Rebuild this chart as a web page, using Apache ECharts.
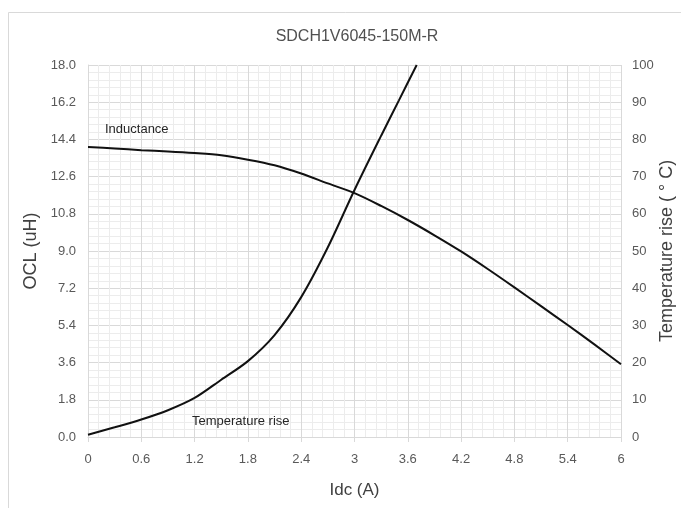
<!DOCTYPE html>
<html>
<head>
<meta charset="utf-8">
<script src="https://cdn.jsdelivr.net/npm/echarts@6/dist/echarts.min.js"></script>
<style>
html,body{margin:0;padding:0;background:#fff;}
#chart{width:681px;height:508px;}
</style>
</head>
<body>
<div id="chart"></div>
<script>
// ---- data ----
var titleText = 'SDCH1V6045-150M-R';
var xTickLabels = ['0', '0.6', '1.2', '1.8', '2.4', '3', '3.6', '4.2', '4.8', '5.4', '6'];
var leftTickLabels = ['0.0', '1.8', '3.6', '5.4', '7.2', '9.0', '10.8', '12.6', '14.4', '16.2', '18.0'];
var rightTickLabels = ['0', '10', '20', '30', '40', '50', '60', '70', '80', '90', '100'];

var idcL = [0, 0.3, 0.6, 0.9, 1.2, 1.5, 1.8, 2.1, 2.4, 2.7, 3.0, 3.3, 3.6, 3.9, 4.2, 4.5, 4.8, 5.1, 5.4, 5.7, 6.0];
var inductance = [14.03, 13.96, 13.88, 13.82, 13.74, 13.63, 13.42, 13.15, 12.75, 12.27, 11.80, 11.18, 10.50, 9.76, 8.98, 8.13, 7.24, 6.33, 5.42, 4.48, 3.52];

var idcT = [0, 0.3, 0.6, 0.9, 1.2, 1.5, 1.8, 2.1, 2.4, 2.7, 3.0, 3.3, 3.5, 3.7];
var tempRise = [0.6, 2.6, 4.7, 7.2, 10.5, 15.4, 20.4, 27.4, 37.6, 51.0, 66.4, 81.0, 90.5, 100];

var seriesNames = ['Inductance', 'Temperature rise'];

// ---- build ----
function zip(xs, ys) { return xs.map(function (x, i) { return [x, ys[i]]; }); }

var FONT = "'Liberation Sans', sans-serif";
var chart = echarts.init(document.getElementById('chart'), null, { renderer: 'canvas' });

var option = {
  animation: false,
  backgroundColor: '#ffffff',
  title: [
    {
      text: titleText,
      left: 352, top: 24, textAlign: 'center',
      textStyle: { fontFamily: FONT, fontSize: 16, fontWeight: 'normal', color: '#505050' }
    },
    {
      text: seriesNames[0], left: 100, top: 118,
      textStyle: { fontFamily: FONT, fontSize: 13, fontWeight: 'normal', color: '#262626' }
    },
    {
      text: seriesNames[1], left: 187, top: 410,
      textStyle: { fontFamily: FONT, fontSize: 13, fontWeight: 'normal', color: '#262626' }
    }
  ],
  graphic: [
    { type: 'rect', shape: { x: 8.5, y: 12.5, width: 700, height: 520 },
      style: { fill: 'none', stroke: '#d9d9d9', lineWidth: 1 }, silent: true, z: -1 }
  ],
  grid: { left: 88, right: 60, top: 65, bottom: 71, containLabel: false, outerBoundsMode: 'none' },
  xAxis: {
    type: 'value', min: 0, max: 6, interval: 0.6,
    name: 'Idc (A)', nameLocation: 'middle', nameGap: 45,
    nameTextStyle: { fontFamily: FONT, fontSize: 17, color: '#404040' },
    axisLine: { show: true, lineStyle: { color: '#d9d9d9' } },
    axisTick: { show: true, length: 5, lineStyle: { color: '#d9d9d9' } },
    axisLabel: { fontFamily: FONT, fontSize: 13, color: '#595959', margin: 16,
      formatter: function (v, i) { return xTickLabels[i]; } },
    splitLine: { show: true, lineStyle: { color: '#d9d9d9' } },
    minorTick: { show: false, splitNumber: 5 },
    minorSplitLine: { show: true, lineStyle: { color: '#ececec' } }
  },
  yAxis: [
    {
      type: 'value', min: 0, max: 18, interval: 1.8, position: 'left',
      name: 'OCL (uH)', nameLocation: 'middle', nameGap: 48, nameRotate: 90,
      nameTextStyle: { fontFamily: FONT, fontSize: 18, color: '#404040' },
      axisLine: { show: true, lineStyle: { color: '#d9d9d9' } },
      axisTick: { show: false },
      axisLabel: { fontFamily: FONT, fontSize: 13, color: '#595959', margin: 12,
        formatter: function (v, i) { return leftTickLabels[i]; } },
      splitLine: { show: true, lineStyle: { color: '#d9d9d9' } },
      minorTick: { show: false, splitNumber: 5 },
      minorSplitLine: { show: true, lineStyle: { color: '#ececec' } }
    },
    {
      type: 'value', min: 0, max: 100, interval: 10, position: 'right',
      name: 'Temperature rise ( ° C)', nameLocation: 'middle', nameGap: 37, nameRotate: 90,
      nameMoveOverlap: false,
      nameTextStyle: { fontFamily: FONT, fontSize: 18, color: '#404040' },
      axisLine: { show: false },
      axisTick: { show: false },
      axisLabel: { fontFamily: FONT, fontSize: 13, color: '#595959', margin: 11,
        formatter: function (v, i) { return rightTickLabels[i]; } },
      splitLine: { show: false }
    }
  ],
  series: [
    {
      name: seriesNames[0], type: 'line', yAxisIndex: 0, smooth: 0.3,
      showSymbol: false, symbol: 'none',
      lineStyle: { color: '#111111', width: 2 }, clip: true,
      data: zip(idcL, inductance)
    },
    {
      name: seriesNames[1], type: 'line', yAxisIndex: 1, smooth: 0.3,
      showSymbol: false, symbol: 'none',
      lineStyle: { color: '#111111', width: 2 }, clip: true,
      data: zip(idcT, tempRise)
    }
  ]
};
chart.setOption(option);
</script>
</body>
</html>
